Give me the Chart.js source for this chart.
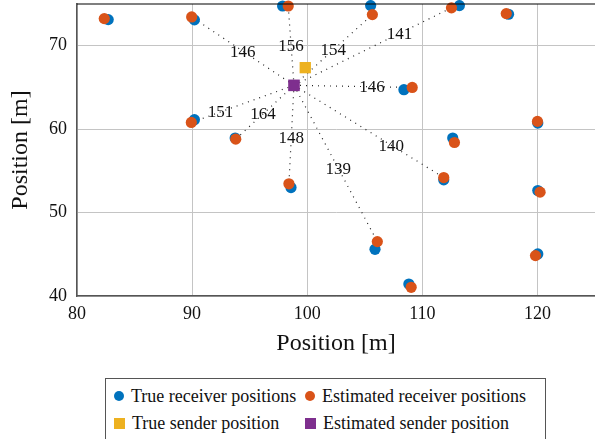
<!DOCTYPE html>
<html>
<head>
<meta charset="utf-8">
<script src="https://cdn.jsdelivr.net/npm/chart.js@4.4.1/dist/chart.umd.min.js"></script>
<style>
  body { margin: 0; background: #fff; font-family: "Liberation Serif", serif; }
  #wrap { position: relative; width: 595px; height: 439px; overflow: hidden; }
  #box { position: absolute; left: 0; top: 0; width: 595px; height: 360px; }
  #legend {
    position: absolute; left: 105px; top: 378px; width: 441px; height: 70px;
    border: 1px solid #555; box-sizing: border-box; font-size: 18px; line-height: 20px; color: #111;
  }
  .item { position: absolute; display: flex; align-items: center; white-space: nowrap; }
  .mk { width: 10px; height: 10px; margin-right: 7px; }
  .mk.sq { width: 11px; height: 11px; }
</style>
</head>
<body>
<div id="wrap">
  <div id="box"><canvas id="chart"></canvas></div>
  <div id="legend"></div>
</div>
<script>
// receivers: true and estimated positions [m]
const trueRecvX = [82.71, 90.2, 97.86, 90.2, 93.74, 98.59, 105.51, 113.22, 117.49, 108.4, 120.03, 112.64, 111.86, 120.03, 105.89, 108.83, 120.03];
const trueRecvY = [73.13, 73.1, 74.76, 61.13, 58.93, 53.0, 74.81, 74.81, 73.77, 64.73, 60.73, 58.93, 53.93, 52.64, 45.6, 41.44, 45.04];
const estRecvX = [82.37, 89.96, 98.35, 89.93, 93.79, 98.41, 105.66, 112.53, 117.29, 109.12, 120.0, 112.79, 111.86, 120.23, 106.09, 109.03, 119.83];
const estRecvY = [73.25, 73.45, 74.76, 60.8, 58.8, 53.45, 73.73, 74.54, 73.85, 65.0, 60.93, 58.4, 54.2, 52.45, 46.52, 41.04, 44.84];

// sender
const trueSender = [99.83, 67.37];
const estSender = [98.85, 65.25];

// dotted links from estimated sender to some estimated receivers
const linkRecv = [1, 2, 6, 7, 9, 3, 4, 5, 14, 12];
const linkLabels = ['146', '156', '154', '141', '146', '151', '164', '148', '139', '140'];
const linkLabelAt = [0.5, 0.5, 0.5, 0.67, 0.66, 0.715, 0.53, 0.53, 0.53, 0.65];

const xTicks = [80, 90, 100, 110, 120];
const yTicks = [40, 50, 60, 70];

const colors = { blue: '#0072BD', orange: '#D95319', yellow: '#EDB120', purple: '#7E2F8E' };
const serif = '"Liberation Serif", "Times New Roman", serif';

const toPts = (xs, ys) => xs.map((x, i) => ({ x: x, y: ys[i] }));

// first dataset is drawn on top
const datasets = [
    { label: 'Estimated sender position', data: [{ x: estSender[0], y: estSender[1] }], pointStyle: 'rect', pointRadius: 8.2, backgroundColor: colors.purple, borderWidth: 0 },
    { label: 'True sender position', data: [{ x: trueSender[0], y: trueSender[1] }], pointStyle: 'rect', pointRadius: 8, backgroundColor: colors.yellow, borderWidth: 0 },
    { label: 'Estimated receiver positions', data: toPts(estRecvX, estRecvY), pointRadius: 5.6, backgroundColor: colors.orange, borderWidth: 0 },
    { label: 'True receiver positions', data: toPts(trueRecvX, trueRecvY), pointRadius: 5.6, backgroundColor: colors.blue, borderWidth: 0 }
];
linkRecv.forEach((r, i) => {
    datasets.push({
        label: 'link' + i,
        data: [{ x: estSender[0], y: estSender[1] }, { x: estRecvX[r], y: estRecvY[r] }],
        showLine: true, pointRadius: 0, borderColor: '#222', borderWidth: 1.2,
        borderDash: [1, 5]
    });
});
datasets.forEach(d => { d.clip = false; });

const frame = {
    id: 'frame',
    afterDatasetsDraw(chart) {
        const { ctx, chartArea: a, scales } = chart;
        ctx.save();
        // top border
        ctx.strokeStyle = '#000';
        ctx.lineWidth = 1.2;
        ctx.beginPath();
        ctx.moveTo(a.left, a.top);
        ctx.lineTo(a.right, a.top);
        ctx.stroke();
        // link labels
        ctx.fillStyle = '#111';
        ctx.font = '17px ' + serif;
        ctx.textAlign = 'center';
        ctx.textBaseline = 'middle';
        linkRecv.forEach((r, i) => {
            const t = linkLabelAt[i];
            const x = estSender[0] + (estRecvX[r] - estSender[0]) * t;
            const y = estSender[1] + (estRecvY[r] - estSender[1]) * t;
            ctx.fillText(linkLabels[i], scales.x.getPixelForValue(x), scales.y.getPixelForValue(y) + 1);
        });
        ctx.restore();
    }
};

new Chart(document.getElementById('chart'), {
    type: 'scatter',
    data: { datasets: datasets },
    plugins: [frame],
    options: {
        responsive: true,
        maintainAspectRatio: false,
        animation: false,
        layout: { autoPadding: false, padding: { top: 4, right: 0, left: 0, bottom: 0 } },
        plugins: { legend: { display: false }, tooltip: { enabled: false } },
        scales: {
            x: {
                type: 'linear', min: 80, max: 125,
                afterBuildTicks: s => { s.ticks = xTicks.map(v => ({ value: v })); },
                afterFit: s => { s.height = 64; s.paddingLeft = 0; s.paddingRight = 0; },
                grid: { color: '#c4c4c4', lineWidth: 1, drawTicks: false },
                border: { color: '#555', width: 1.5 },
                ticks: { color: '#111', padding: 7, font: { family: serif, size: 18 } },
                title: { display: true, text: 'Position [m]', color: '#111', padding: { top: 0, bottom: 2 }, font: { family: serif, size: 24 } }
            },
            y: {
                type: 'linear', min: 40, max: 75,
                afterBuildTicks: s => { s.ticks = yTicks.map(v => ({ value: v })); },
                afterFit: s => { s.width = 77; s.paddingTop = 0; s.paddingBottom = 0; },
                grid: { color: '#c4c4c4', lineWidth: 1, drawTicks: false },
                border: { color: '#555', width: 1.5 },
                ticks: { color: '#111', padding: 10, font: { family: serif, size: 18 } },
                title: { display: true, text: 'Position [m]', color: '#111', padding: { top: 6, bottom: 0 }, font: { family: serif, size: 24 } }
            }
        }
    }
});

// legend built from the series names
const legendRows = [
    ['True receiver positions', colors.blue, 'dot', 0, 0],
    ['Estimated receiver positions', colors.orange, 'dot', 1, 0],
    ['True sender position', colors.yellow, 'sq', 0, 1],
    ['Estimated sender position', colors.purple, 'sq', 1, 1]
];
const legend = document.getElementById('legend');
legendRows.forEach(([text, col, style, c, r]) => {
    const el = document.createElement('div');
    el.className = 'item';
    el.style.left = (c === 0 ? 8 : 199) + 'px';
    el.style.top = (r === 0 ? 7 : 34) + 'px';
    const mk = document.createElement('span');
    mk.className = 'mk ' + style;
    mk.style.background = col;
    if (style === 'dot') mk.style.borderRadius = '50%';
    el.appendChild(mk);
    el.appendChild(document.createTextNode(text));
    legend.appendChild(el);
});
</script>
</body>
</html>
